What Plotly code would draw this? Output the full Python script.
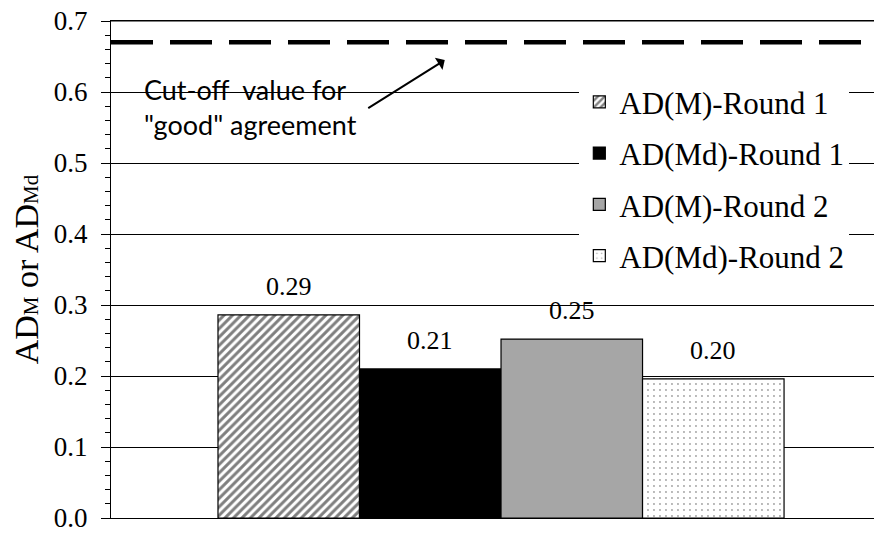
import plotly.graph_objects as go

categories = ["AD(M)-Round 1", "AD(Md)-Round 1", "AD(M)-Round 2", "AD(Md)-Round 2"]
values = [0.286, 0.210, 0.252, 0.196]
cutoff = 0.67
y_max = 0.7
y_ticks = [0.0, 0.1, 0.2, 0.3, 0.4, 0.5, 0.6, 0.7]
y_tick_labels = ["0.0", "0.1", "0.2", "0.3", "0.4", "0.5", "0.6", "0.7"]

styles = [
    dict(color="white", pattern=dict(shape="/", fgcolor="black", bgcolor="white", size=6, solidity=0.5)),
    dict(color="black"),
    dict(color="#a6a6a6"),
    dict(color="white", pattern=dict(shape=".", fgcolor="#444444", bgcolor="white", size=6, solidity=0.08)),
]

SERIF = "Liberation Serif, Times New Roman, serif"

fig = go.Figure()
for i, (cat, val) in enumerate(zip(categories, values)):
    fig.add_trace(go.Bar(
        x=[cat], y=[val], name=cat, width=1,
        marker=dict(line=dict(color="black", width=1.2), **styles[i]),
        legendgroup=f"g{i}",
        hoverinfo="skip",
    ))
    fig.add_annotation(x=cat, y=val, text=f"{val:.2f}", showarrow=False,
                       yanchor="bottom", yshift=12,
                       font=dict(family=SERIF, size=26, color="black"))

fig.add_shape(type="line", xref="paper", x0=0, x1=1, yref="y", y0=cutoff, y1=cutoff,
              line=dict(color="black", width=4.5, dash="42px,17px"))
# top border of the plot area (grid line at the maximum of the y range)
fig.add_shape(type="line", xref="paper", x0=0, x1=1, yref="paper", y0=1, y1=1,
              line=dict(color="black", width=1.2))

fig.add_annotation(xref="paper", yref="y", x=0.040, y=0.579, xanchor="left", yanchor="middle",
                   text="Cut-off  value for<br>\"good\" agreement", showarrow=False, align="left",
                   font=dict(family="Lato", size=27, color="black"))
fig.add_annotation(xref="paper", yref="y", x=0.434, y=0.645, text="", showarrow=True,
                   ax=-78, ay=49, arrowhead=1, arrowsize=1.2, arrowwidth=2, arrowcolor="black")

sub = "<span style='font-size:21px'>{}</span>"
y_title = "AD" + sub.format("M") + " or AD" + sub.format("Md")

fig.update_layout(
    width=882, height=534,
    margin=dict(l=103, r=10, t=13, b=24),
    plot_bgcolor="white", paper_bgcolor="white",
    barmode="overlay",
    showlegend=True,
    legend=dict(x=0.609, xanchor="left", y=0.891, yanchor="top",
                bgcolor="white", font=dict(family=SERIF, size=31, color="black"),
                tracegroupgap=8, itemwidth=30),
    xaxis=dict(type="category", range=[-1.256, 4.178], showticklabels=False, ticks="",
               showline=True, mirror=True, linecolor="black", linewidth=1.2, showgrid=False,
               automargin=False),
    yaxis=dict(range=[0, y_max], tickvals=y_ticks, ticktext=y_tick_labels,
               ticks="outside", ticklen=9, tickcolor="black", tickwidth=1.2,
               ticklabelstandoff=8, ticklabeloverflow="allow",
               showgrid=True, gridcolor="black", gridwidth=1.2, zeroline=False,
               showline=True, linecolor="black", linewidth=1.2, automargin=False,
               tickfont=dict(family=SERIF, size=27, color="black"),
               minor=dict(dtick=0.02, ticks="outside", ticklen=5, tickcolor="black", showgrid=False),
               title=dict(text=y_title, standoff=5,
                          font=dict(family=SERIF, size=34, color="black"))),
)

fig.write_html("out.html")
